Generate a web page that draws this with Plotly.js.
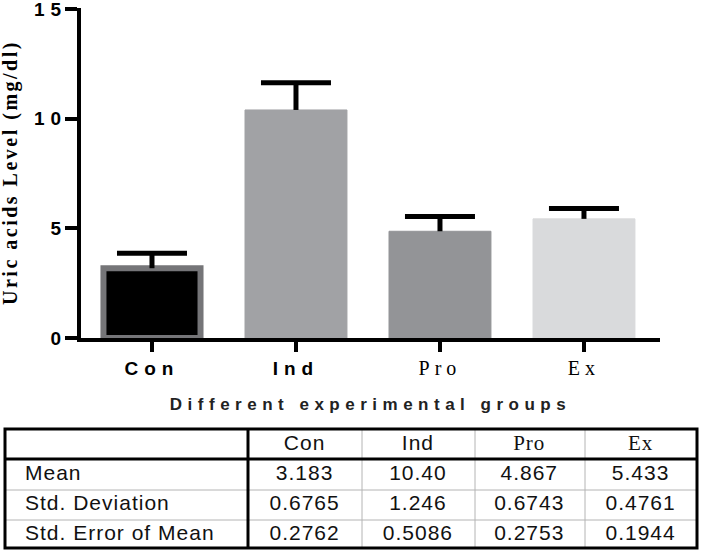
<!DOCTYPE html>
<html>
<head>
<meta charset="utf-8">
<script src="https://cdn.plot.ly/plotly-3.0.1.min.js"></script>
<style>
html,body{margin:0;padding:0;background:#fff;}
#chart .ytick text{letter-spacing:6px;}
#chart .table text{letter-spacing:1px;}
</style>
</head>
<body>
<div id="chart" style="width:704px;height:552px;"></div>
<script>
// ---- data ----
const groups = ['Con', 'Ind', 'Pro', 'Ex'];
const means = [3.183, 10.40, 4.867, 5.433];
const stdDevs = [0.6765, 1.246, 0.6743, 0.4761];
const stdErrors = [0.2762, 0.5086, 0.2753, 0.1944];
const statLabels = ['Mean', 'Std. Deviation', 'Std. Error of Mean'];
const yTickVals = [0, 5, 10, 15];
const yTitle = 'Uric acids Level (mg/dl)';
const xTitle = 'Different experimental groups';

// ---- styling helpers ----
const W = 704, H = 552;
const px = x => x / W;
const py = y => 1 - y / H;
const serifGroups = ['Pro', 'Ex'];
const SANS = 'Liberation Sans, Arial, sans-serif';
const SERIF = 'Liberation Serif, Times New Roman, serif';
const barColors = ['#000000', '#a1a2a5', '#939497', '#d9dadc'];
const barLineColors = ['#757578', '#a1a2a5', '#939497', '#d9dadc'];
const barLineWidths = [6, 1, 1, 1];
const barWidths = [0.674, 0.708, 0.708, 0.708];

function axisTick(g) {
  return serifGroups.includes(g)
    ? `<span style="font-family:'Liberation Serif';font-weight:normal;font-size:20px;letter-spacing:5px">${g}</span>`
    : `<span style="letter-spacing:6px">${g}</span>`;
}
const colFont = g => serifGroups.includes(g) ? SERIF : SANS;

const bars = {
  type: 'bar',
  x: groups,
  y: means,
  width: barWidths,
  marker: { color: barColors, line: { color: barLineColors, width: barLineWidths } },
  // vertical stem of the error bar (no caps)
  error_y: { type: 'data', symmetric: false, array: stdDevs, color: '#000', thickness: 5, width: 0 },
  hoverinfo: 'skip'
};

// cap of the error bar at mean + SD
const caps = {
  type: 'scatter',
  mode: 'markers',
  x: groups,
  y: means.map((m, i) => m + stdDevs[i]),
  marker: { symbol: 'line-ew', size: 50, color: '#000', line: { color: '#000', width: 5 } },
  hoverinfo: 'skip'
};

const table = {
  type: 'table',
  domain: { x: [px(17), px(697)], y: [py(546), py(426)] },
  columnwidth: [231, 114, 113, 110, 113],
  header: {
    values: [''].concat(groups),
    height: 30,
    align: ['left', 'center', 'center', 'center', 'center'],
    fill: { color: '#ffffff' },
    line: { width: 0, color: 'rgba(0,0,0,0)' },
    font: { family: [SANS].concat(groups.map(colFont)), size: 21, color: '#111' }
  },
  cells: {
    values: [statLabels].concat(groups.map((g, i) => [means[i], stdDevs[i], stdErrors[i]].map(v => v.toPrecision(4)))),
    height: 30,
    align: ['left', 'center', 'center', 'center', 'center'],
    fill: { color: '#ffffff' },
    line: { width: 0, color: 'rgba(0,0,0,0)' },
    font: { family: SANS, size: 21, color: '#111' }
  }
};

// table grid lines
const tL = 5, tR = 697, tT = 429, tB = 548;
const thin = { color: '#b4b4b4', width: 1 };
const thick = { color: '#000', width: 3 };
const shapes = [];
[362, 475, 585].forEach(x => shapes.push({ type: 'line', xref: 'paper', yref: 'paper', x0: px(x), x1: px(x), y0: py(tT), y1: py(tB), line: thin, layer: 'above' }));
[490, 520].forEach(y => shapes.push({ type: 'line', xref: 'paper', yref: 'paper', x0: px(tL), x1: px(tR), y0: py(y), y1: py(y), line: thin, layer: 'above' }));
shapes.push({ type: 'line', xref: 'paper', yref: 'paper', x0: px(tL), x1: px(tR), y0: py(459), y1: py(459), line: thick, layer: 'above' });
shapes.push({ type: 'line', xref: 'paper', yref: 'paper', x0: px(248), x1: px(248), y0: py(tT), y1: py(tB), line: thick, layer: 'above' });
shapes.push({ type: 'rect', xref: 'paper', yref: 'paper', x0: px(tL), x1: px(tR), y0: py(tB), y1: py(tT), line: thick, fillcolor: 'rgba(0,0,0,0)', layer: 'above' });

const layout = {
  width: W, height: H,
  margin: { l: 0, r: 0, t: 0, b: 0 },
  paper_bgcolor: '#fff', plot_bgcolor: '#fff',
  showlegend: false,
  font: { family: SANS, color: '#000' },
  xaxis: {
    domain: [px(81), px(660)],
    type: 'category',
    range: [-0.493, 3.528],
    showline: true, linewidth: 4, linecolor: '#000',
    ticks: 'outside', ticklen: 10, tickwidth: 4, tickcolor: '#000',
    tickmode: 'array', tickvals: groups, ticktext: groups.map(axisTick),
    tickfont: { family: SANS, size: 19, weight: 'bold', color: '#000' },
    showgrid: false, zeroline: false, fixedrange: true,
    title: {
      text: `<span style="letter-spacing:5.5px">${xTitle}</span>`,
      font: { family: SANS, size: 17, weight: 'bold', color: '#222' },
      standoff: 21
    }
  },
  yaxis: {
    domain: [py(338), py(8)],
    range: [0, 15.05],
    tickmode: 'array', tickvals: yTickVals,
    showline: true, linewidth: 4, linecolor: '#000',
    ticks: 'outside', ticklen: 12, tickwidth: 4, tickcolor: '#000',
    ticklabelstandoff: -6,
    ticklabeloverflow: 'allow',
    tickfont: { family: SANS, size: 19, weight: 'bold', color: '#000' },
    showgrid: false, zeroline: false, fixedrange: true
  },
  annotations: [{
    xref: 'paper', yref: 'paper', x: px(11), y: py(173),
    xanchor: 'center', yanchor: 'middle', textangle: -90, showarrow: false,
    text: `<span style="letter-spacing:2.5px">${yTitle}</span>`,
    font: { family: SERIF, size: 20, weight: 'bold', color: '#000' }
  }],
  shapes: shapes
};

Plotly.newPlot('chart', [bars, caps, table], layout, { staticPlot: true, displayModeBar: false });
</script>
</body>
</html>
